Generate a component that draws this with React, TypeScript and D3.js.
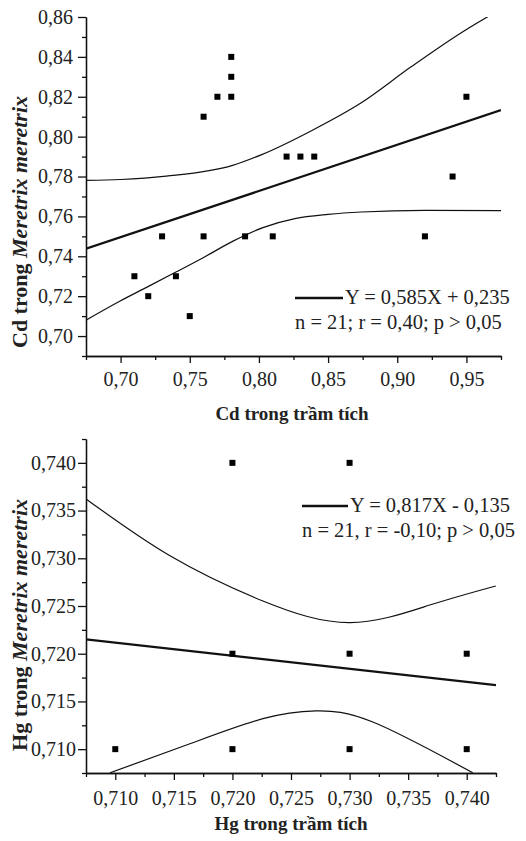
import * as d3 from 'd3'
import { useEffect, useRef } from 'react'

// --- Cd panel (top) ---
const cdX = [0.71, 0.72, 0.73, 0.74, 0.75, 0.76, 0.76, 0.77, 0.78, 0.78, 0.78, 0.79, 0.81, 0.82, 0.83, 0.84, 0.92, 0.94, 0.95]
const cdY = [0.73, 0.72, 0.75, 0.73, 0.71, 0.75, 0.81, 0.82, 0.82, 0.83, 0.84, 0.75, 0.75, 0.79, 0.79, 0.79, 0.75, 0.78, 0.82]
const cdFitX = [0.675, 0.975]
const cdFitY = [0.7438, 0.8133]
const cdUpperX = [0.675, 0.7, 0.733, 0.781, 0.802, 0.838, 0.874, 0.91, 0.946, 0.975]
const cdUpperY = [0.7781, 0.7785, 0.7802, 0.7856, 0.791, 0.803, 0.817, 0.835, 0.852, 0.864]
const cdLowerX = [0.675, 0.6997, 0.7198, 0.74, 0.7597, 0.7813, 0.8029, 0.826, 0.85, 0.874, 0.92, 0.975]
const cdLowerY = [0.708, 0.7176, 0.7248, 0.7321, 0.7393, 0.7476, 0.7544, 0.7589, 0.761, 0.7622, 0.763, 0.7629]
const cdXTicks = [0.7, 0.75, 0.8, 0.85, 0.9, 0.95]
const cdXMinor = [0.675, 0.725, 0.775, 0.825, 0.875, 0.925, 0.975]
const cdYTicks = [0.7, 0.72, 0.74, 0.76, 0.78, 0.8, 0.82, 0.84, 0.86]
const cdYMinor = [0.69, 0.71, 0.73, 0.75, 0.77, 0.79, 0.81, 0.83, 0.85]

// --- Hg panel (bottom) ---
const hgX = [0.72, 0.73, 0.72, 0.73, 0.74, 0.71, 0.72, 0.73, 0.74]
const hgY = [0.74, 0.74, 0.72, 0.72, 0.72, 0.71, 0.71, 0.71, 0.71]
const hgFitX = [0.7075, 0.7425]
const hgFitY = [0.7215, 0.7167]
const hgUpperX = [0.7075, 0.71467, 0.7226, 0.73003, 0.73685, 0.74248]
const hgUpperY = [0.73622, 0.73026, 0.72553, 0.72326, 0.7251, 0.7271]
const hgLowerX = [0.70955, 0.71637, 0.7226, 0.72712, 0.73199, 0.74052]
const hgLowerY = [0.70752, 0.71056, 0.71319, 0.71401, 0.71284, 0.70752]
const hgTicks = [0.71, 0.715, 0.72, 0.725, 0.73, 0.735, 0.74]
const hgMinor = [0.7075, 0.7125, 0.7175, 0.7225, 0.7275, 0.7325, 0.7375, 0.7425]

const FONT = "'Liberation Serif', 'Times New Roman', serif"
const vn = d3.formatLocale({ decimal: ',', thousands: '.', grouping: [3], currency: ['', ''] })

const App = () => {
  const svgRef = useRef<SVGSVGElement>(null)

  useEffect(() => {
    const svg = d3.select(svgRef.current)
    svg.selectAll('*').remove()

    const panel = (p: any) => {
      const x = d3.scaleLinear().domain(p.xDomain).range([p.left, p.right])
      const y = d3.scaleLinear().domain(p.yDomain).range([p.bottom, p.top])
      const g = svg.append('g')

      g.append('clipPath')
        .attr('id', p.id)
        .append('rect')
        .attr('x', p.left)
        .attr('y', p.top)
        .attr('width', p.right - p.left)
        .attr('height', p.bottom - p.top)

      // axes: minor ticks then major ticks with labels
      const styleAxis = (a: any) => {
        a.attr('font-family', FONT).attr('font-size', 20)
        a.selectAll('path, line').attr('stroke', '#111').attr('stroke-width', 1.3)
        a.selectAll('text').attr('font-family', FONT).attr('font-size', 20).attr('fill', '#222')
      }
      g.append('g')
        .attr('transform', `translate(0,${p.bottom})`)
        .call(d3.axisBottom(x).tickValues(p.xMinor).tickSize(4).tickSizeOuter(0).tickFormat(() => ''))
        .call(styleAxis)
      g.append('g')
        .attr('transform', `translate(0,${p.bottom})`)
        .call(d3.axisBottom(x).tickValues(p.xTicks).tickSize(7).tickSizeOuter(0).tickPadding(p.xPad).tickFormat(vn.format(p.fmt)))
        .call(styleAxis)
      g.append('g')
        .attr('transform', `translate(${p.left},0)`)
        .call(d3.axisLeft(y).tickValues(p.yMinor).tickSize(4).tickSizeOuter(0).tickFormat(() => ''))
        .call(styleAxis)
      g.append('g')
        .attr('transform', `translate(${p.left},0)`)
        .call(d3.axisLeft(y).tickValues(p.yTicks).tickSize(8).tickSizeOuter(0).tickPadding(p.yPad).tickFormat(vn.format(p.fmt)))
        .call(styleAxis)

      const drawLine = (xs: number[], ys: number[], w: number, c: any) => {
        const line = d3
          .line<number>()
          .x((d) => x(d))
          .y((d, i) => y(ys[i]))
          .curve(c)
        g.append('path')
          .datum(xs)
          .attr('clip-path', `url(#${p.id})`)
          .attr('d', line)
          .attr('fill', 'none')
          .attr('stroke', '#111')
          .attr('stroke-width', w)
      }
      drawLine(p.upperX, p.upperY, 1.2, p.curve)
      drawLine(p.lowerX, p.lowerY, 1.2, p.curve)
      drawLine(p.fitX, p.fitY, 2.3, d3.curveLinear)

      g.selectAll('rect.pt')
        .data(p.px)
        .enter()
        .append('rect')
        .attr('class', 'pt')
        .attr('x', (d: number) => x(d) - 3)
        .attr('y', (d: number, i: number) => y(p.py[i]) - 3)
        .attr('width', 6)
        .attr('height', 6)
        .attr('fill', '#000')

      // legend
      const lg = p.legend
      g.append('line')
        .attr('x1', lg.x1)
        .attr('x2', lg.x2)
        .attr('y1', lg.y)
        .attr('y2', lg.y)
        .attr('stroke', '#111')
        .attr('stroke-width', 2.3)
      g.append('text')
        .attr('x', lg.x2 + 2)
        .attr('y', lg.y + 6)
        .attr('font-family', FONT)
        .attr('font-size', 20.5)
        .attr('fill', '#222')
        .text(lg.eq)
      g.append('text')
        .attr('x', lg.x1)
        .attr('y', lg.y + 31)
        .attr('font-family', FONT)
        .attr('font-size', 20.5)
        .attr('fill', '#222')
        .text(lg.stats)

      // axis titles
      g.append('text')
        .attr('x', p.xTitleX)
        .attr('y', p.xTitleY)
        .attr('text-anchor', 'middle')
        .attr('font-family', FONT)
        .attr('font-weight', 'bold')
        .attr('font-size', 19)
        .attr('fill', '#222')
        .text(p.xTitle)
      const yt = g
        .append('text')
        .attr('transform', `translate(27,${p.yTitleY}) rotate(-90)`)
        .attr('text-anchor', 'middle')
        .attr('font-family', FONT)
        .attr('font-weight', 'bold')
        .attr('font-size', 22)
        .attr('fill', '#222')
      yt.append('tspan').text(p.yTitle + ' ')
      yt.append('tspan').attr('font-style', 'italic').text('Meretrix meretrix')
    }

    panel({
      id: 'clipCd',
      xDomain: [0.675, 0.975],
      yDomain: [0.69, 0.86],
      left: 86,
      right: 501,
      top: 17,
      bottom: 356,
      xTicks: cdXTicks,
      xMinor: cdXMinor,
      yTicks: cdYTicks,
      yMinor: cdYMinor,
      fmt: '.2f',
      xPad: 9,
      yPad: 5,
      px: cdX,
      py: cdY,
      fitX: cdFitX,
      fitY: cdFitY,
      upperX: cdUpperX,
      upperY: cdUpperY,
      lowerX: cdLowerX,
      lowerY: cdLowerY,
      curve: d3.curveMonotoneX,
      legend: { x1: 295, x2: 343, y: 298, eq: 'Y = 0,585X + 0,235', stats: 'n = 21; r = 0,40; p > 0,05' },
      xTitle: 'Cd trong trầm tích',
      xTitleX: 292,
      xTitleY: 420,
      yTitle: 'Cd trong',
      yTitleY: 222,
    })

    panel({
      id: 'clipHg',
      xDomain: [0.7075, 0.7425],
      yDomain: [0.7075, 0.7425],
      left: 86,
      right: 496,
      top: 439,
      bottom: 773,
      xTicks: hgTicks,
      xMinor: hgMinor,
      yTicks: hgTicks,
      yMinor: hgMinor,
      fmt: '.3f',
      xPad: 11,
      yPad: 2,
      px: hgX,
      py: hgY,
      fitX: hgFitX,
      fitY: hgFitY,
      upperX: hgUpperX,
      upperY: hgUpperY,
      lowerX: hgLowerX,
      lowerY: hgLowerY,
      curve: d3.curveNatural,
      legend: { x1: 302, x2: 348, y: 506, eq: 'Y = 0,817X - 0,135', stats: 'n = 21, r = -0,10; p > 0,05' },
      xTitle: 'Hg trong trầm tích',
      xTitleX: 291,
      xTitleY: 830,
      yTitle: 'Hg trong',
      yTitleY: 625,
    })
  }, [])

  return (
    <svg
      ref={svgRef}
      width={526}
      height={841}
      style={{ position: 'absolute', left: 0, top: 0, background: '#fff' }}
    ></svg>
  )
}

export default App
